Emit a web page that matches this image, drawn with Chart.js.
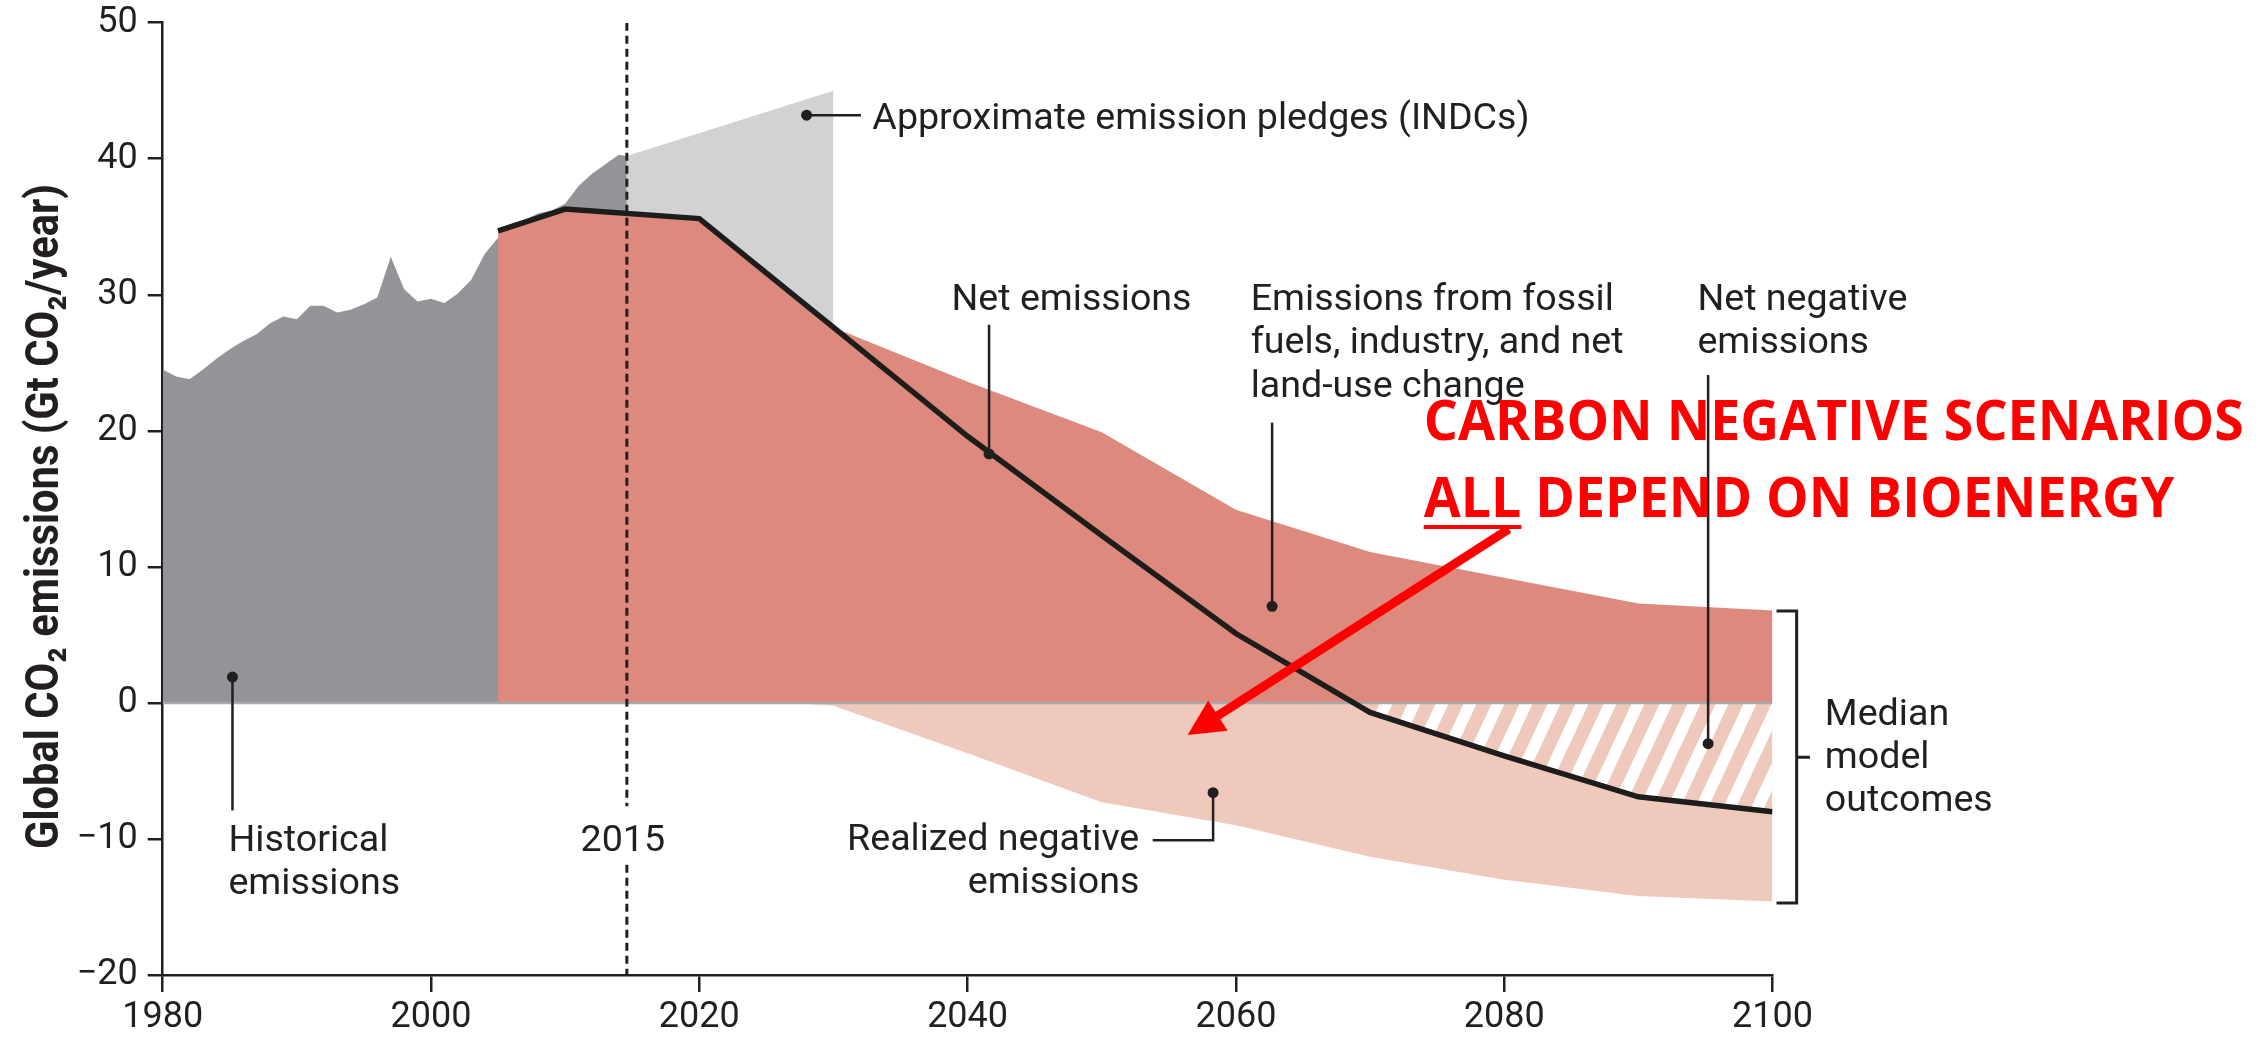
<!DOCTYPE html>
<html lang="en">
<head>
  <meta charset="UTF-8">
  <title>Global CO2 emissions – median model outcomes</title>
  <script src="https://cdn.jsdelivr.net/npm/chart.js"></script>
  <style>
    html, body { margin: 0; padding: 0; background: #fff; }
    #wrap { width: 2263px; height: 1040px; position: relative; }
  </style>
</head>
<body>
  <div id="wrap"><canvas id="emissionsChart"></canvas></div>

  <script>
    // Historical emissions (Gt CO2 / year)
    const histYears = [1980, 1981, 1982, 1983, 1984, 1985, 1986, 1987, 1988, 1989,
      1990, 1991, 1992, 1993, 1994, 1995, 1996, 1997, 1998, 1999,
      2000, 2001, 2002, 2003, 2004, 2005, 2006, 2007, 2008, 2009,
      2010, 2011, 2012, 2013, 2014, 2014.6];
    const histValues = [24.5, 24.0, 23.8, 24.5, 25.3, 26.0, 26.6, 27.1, 27.9, 28.4,
      28.2, 29.2, 29.2, 28.7, 28.9, 29.3, 29.8, 32.8, 30.4, 29.5,
      29.7, 29.4, 30.1, 31.1, 33.0, 34.2, 34.9, 35.5, 36.0, 36.2,
      36.7, 38.0, 38.9, 39.6, 40.3, 40.2];

    // Approximate emission pledges (INDCs)
    const indcYears = [2014.6, 2030, 2030];
    const indcValues = [40.2, 45.0, 27.6];

    // Median model outcomes
    const scenYears = [2005, 2010, 2020, 2030, 2040, 2050, 2060, 2070, 2080, 2090, 2100];
    const fossilValues = [34.7, 36.3, 35.6, 27.6, 23.6, 19.9, 14.2, 11.1, 9.2, 7.3, 6.8];
    const netValues = [34.7, 36.3, 35.6, 27.6, 19.6, 12.3, 5.1, -0.7, -3.9, -6.9, -8.0];

    // Realized negative emissions
    const negYears = [2027, 2030, 2040, 2050, 2060, 2070, 2080, 2090, 2100];
    const negValues = [0, -0.2, -3.7, -7.3, -9.0, -11.3, -13.0, -14.2, -14.6];

    const markerYear = 2014.6;
    const xTicks = [1980, 2000, 2020, 2040, 2060, 2080, 2100];
    const yTicks = [-20, -10, 0, 10, 20, 30, 40, 50];

    const INK = '#231F20';
    const GRAY = '#939498';
    const LIGHT_GRAY = '#D1D2D4';
    const SALMON = '#DD897E';
    const PINK = '#EFC9BC';
    const RED = '#FF0000';

    const pts = (xs, ys) => xs.map((x, i) => ({ x, y: ys[i] }));

    // diagonal white / pink stripes for the net negative area
    const makeHatch = (ctx) => {
      const tile = document.createElement('canvas');
      tile.width = 28; tile.height = 60;
      const g = tile.getContext('2d');
      g.fillStyle = PINK;
      g.fillRect(0, 0, 28, 60);
      g.fillStyle = '#ffffff';
      for (let k = -2; k <= 1; k++) {
        const x0 = k * 28;
        g.beginPath();
        g.moveTo(x0, 60); g.lineTo(x0 + 13, 60);
        g.lineTo(x0 + 41, 0); g.lineTo(x0 + 28, 0);
        g.closePath(); g.fill();
      }
      return ctx.createPattern(tile, 'repeat');
    };

    // annotation texts (data coordinates: year, Gt)
    const notes = [
      { lines: ['Approximate emission pledges (INDCs)'], x: 2032.9, y: [42.2], align: 'left' },
      { lines: ['Net emissions'], x: 2038.8, y: [28.9], align: 'left' },
      { lines: ['Emissions from fossil', 'fuels, industry, and net', 'land-use change'], x: 2061.1, y: [28.9, 25.7, 22.5], align: 'left' },
      { lines: ['Net negative', 'emissions'], x: 2094.4, y: [28.9, 25.7], align: 'left' },
      { lines: ['Historical', 'emissions'], x: 1984.9, y: [-10.9, -14.05], align: 'left' },
      { lines: ['2015'], x: 2014.3, y: [-10.9], align: 'center' },
      { lines: ['Realized negative', 'emissions'], x: 2052.8, y: [-10.8, -14.0], align: 'right' },
      { lines: ['Median', 'model', 'outcomes'], x: 2103.9, y: [-1.6, -4.8, -7.95], align: 'left' }
    ];
    // leader lines: polyline then dot at the last point
    const leaders = [
      [[2032.05, 43.2], [2028.0, 43.2]],
      [[2041.6, 27.8], [2041.6, 18.3]],
      [[2062.7, 20.6], [2062.7, 7.1]],
      [[2095.2, 24.1], [2095.2, -3.0]],
      [[1985.2, -7.9], [1985.2, 1.9]],
      [[2053.8, -10.1], [2058.3, -10.1], [2058.3, -6.6]]
    ];

    const annotations = {
      id: 'annotations',
      afterDatasetsDraw(chart) {
        const { ctx, scales: { x, y }, chartArea } = chart;
        const X = v => x.getPixelForValue(v);
        const Y = v => y.getPixelForValue(v);

        ctx.save();
        // leaders and dots
        ctx.strokeStyle = INK;
        ctx.fillStyle = INK;
        ctx.lineWidth = 2.5;
        leaders.forEach(path => {
          ctx.beginPath();
          path.forEach(([a, b], i) => i ? ctx.lineTo(X(a), Y(b)) : ctx.moveTo(X(a), Y(b)));
          ctx.stroke();
          const [a, b] = path[path.length - 1];
          ctx.beginPath();
          ctx.arc(X(a), Y(b), 5.5, 0, Math.PI * 2);
          ctx.fill();
        });

        // bracket for median model outcomes
        ctx.lineWidth = 3;
        ctx.beginPath();
        ctx.moveTo(X(2100.3), Y(6.75)); ctx.lineTo(X(2101.8), Y(6.75));
        ctx.lineTo(X(2101.8), Y(-14.7)); ctx.lineTo(X(2100.3), Y(-14.7));
        ctx.moveTo(X(2101.8), Y(-4.0)); ctx.lineTo(X(2102.8), Y(-4.0));
        ctx.stroke();

        // annotation text
        ctx.font = '37px Roboto';
        ctx.textBaseline = 'alphabetic';
        const sx = 240 / ctx.measureText('Net emissions').width;
        notes.forEach(n => {
          n.lines.forEach((t, i) => {
            ctx.save();
            ctx.translate(X(n.x), Y(n.y[i]));
            ctx.scale(sx, 1);
            ctx.textAlign = n.align;
            ctx.fillText(t, 0, 0);
            ctx.restore();
          });
        });

        // y axis title
        ctx.save();
        ctx.font = 'bold 46px Roboto';
        const title = 'Global CO\u2082 emissions (Gt CO\u2082/year)';
        const ts = 665 / ctx.measureText(title).width;
        ctx.translate(chartArea.left - 116, Y(13.7));
        ctx.rotate(-Math.PI / 2);
        ctx.scale(ts, 1);
        ctx.textAlign = 'center';
        ctx.textBaseline = 'middle';
        ctx.fillText(title, 0, 0);
        ctx.restore();

        // red overlay message
        ctx.fillStyle = RED;
        ctx.font = 'bold 56px "Open Sans"';
        const rs = 820 / ctx.measureText('CARBON NEGATIVE SCENARIOS').width;
        const lx = X(2074.0);
        [['CARBON NEGATIVE SCENARIOS', 19.33], ['ALL DEPEND ON BIOENERGY', 13.67]].forEach(([t, v]) => {
          ctx.save();
          ctx.translate(lx, Y(v));
          ctx.scale(rs, 1);
          ctx.textAlign = 'left';
          ctx.fillText(t, 0, 0);
          ctx.restore();
        });
        const ulW = ctx.measureText('ALL').width * rs;
        ctx.fillRect(lx, Y(12.93) - 2, ulW, 4);

        // red arrow
        const x0 = X(2080.35), y0 = Y(12.78), x1 = X(2056.4), y1 = Y(-2.36);
        const ang = Math.atan2(y1 - y0, x1 - x0);
        const c = Math.cos(ang), s = Math.sin(ang);
        const headLen = 36, headW = 18;
        ctx.strokeStyle = RED;
        ctx.lineWidth = 9;
        ctx.lineCap = 'butt';
        ctx.beginPath();
        ctx.moveTo(x0, y0);
        ctx.lineTo(x1 - headLen * 0.8 * c, y1 - headLen * 0.8 * s);
        ctx.stroke();
        ctx.beginPath();
        ctx.moveTo(x1, y1);
        ctx.lineTo(x1 - headLen * c + headW * s, y1 - headLen * s - headW * c);
        ctx.lineTo(x1 - headLen * c - headW * s, y1 - headLen * s + headW * c);
        ctx.closePath();
        ctx.fill();
        ctx.restore();
      }
    };

    const canvas = document.getElementById('emissionsChart');
    const hatch = makeHatch(canvas.getContext('2d'));

    new Chart(canvas, {
      type: 'line',
      data: {
        datasets: [
          { label: 'INDCs', data: pts(indcYears, indcValues), order: 10, fill: 'origin',
            backgroundColor: LIGHT_GRAY, borderWidth: 0, pointRadius: 0 },
          { label: 'Historical', data: pts(histYears, histValues), order: 9, fill: 'origin',
            backgroundColor: GRAY, borderWidth: 0, pointRadius: 0 },
          { label: 'Fossil fuels, industry, land use', data: pts(scenYears, fossilValues), order: 8, fill: 'origin',
            backgroundColor: SALMON, borderWidth: 0, pointRadius: 0 },
          { label: 'Realized negative', data: pts(negYears, negValues), order: 7, fill: 'origin',
            backgroundColor: PINK, borderWidth: 0, pointRadius: 0 },
          { label: 'Net negative', data: pts(scenYears, netValues), order: 6,
            fill: { target: 'origin', above: 'rgba(0,0,0,0)', below: hatch },
            borderWidth: 0, pointRadius: 0 },
          { label: 'Zero', data: pts([1980, 2100], [0, 0]), order: 5,
            borderColor: '#A7A9AC', borderWidth: 2.5, pointRadius: 0 },
          { label: '2015', data: pts([markerYear, markerYear, markerYear, markerYear, markerYear], [50, -7.6, null, -11.9, -20]),
            order: 4, borderColor: INK, borderWidth: 3, borderDash: [8, 5], pointRadius: 0, spanGaps: false },
          { label: 'Net emissions', data: pts(scenYears, netValues), order: 3,
            borderColor: '#1D1D1B', borderWidth: 5.5, pointRadius: 0, borderJoinStyle: 'miter' }
        ]
      },
      options: {
        responsive: true,
        maintainAspectRatio: false,
        animation: false,
        layout: { padding: { top: 22.7, right: 490.5, bottom: 0, left: 0 } },
        plugins: { legend: { display: false }, tooltip: { enabled: false } },
        scales: {
          x: {
            type: 'linear', min: 1980, max: 2100,
            afterFit: s => { s.height = 65; },
            afterBuildTicks: s => { s.ticks = xTicks.map(v => ({ value: v })); },
            grid: { drawOnChartArea: false, drawTicks: true, tickLength: 17, color: INK, lineWidth: 2.5 },
            border: { display: true, color: INK, width: 2.5 },
            ticks: { color: INK, padding: 4, font: { family: 'Roboto', size: 36 }, maxRotation: 0,
              callback: v => String(v) }
          },
          y: {
            min: -20, max: 50,
            afterFit: s => { s.width = 162.7; },
            afterBuildTicks: s => { s.ticks = yTicks.map(v => ({ value: v })); },
            grid: { drawOnChartArea: false, drawTicks: true, tickLength: 15, color: INK, lineWidth: 2.5 },
            border: { display: true, color: INK, width: 2.5 },
            ticks: { color: INK, padding: 10, font: { family: 'Roboto', size: 36, lineHeight: 0.6 },
              callback: v => String(v).replace('-', '\u2212') }
          }
        }
      },
      plugins: [annotations]
    });
  </script>
</body>
</html>
